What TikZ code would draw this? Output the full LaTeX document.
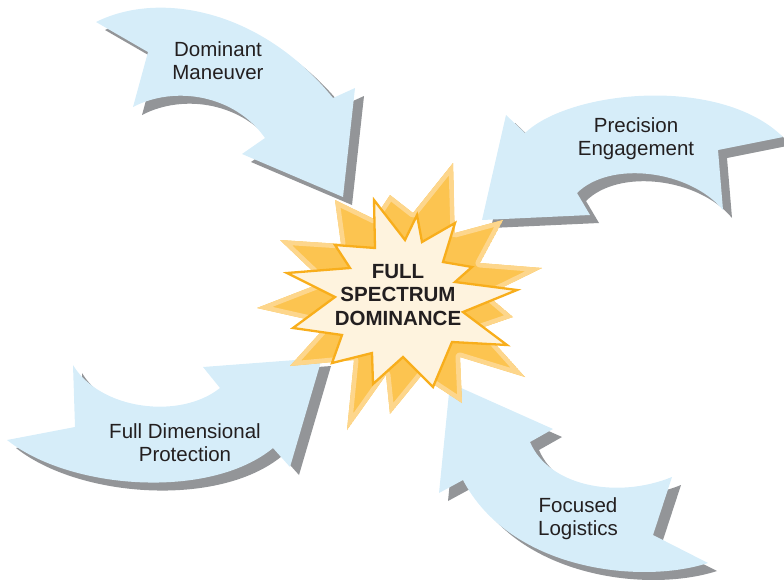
\documentclass[tikz,border=0pt]{standalone}
\usepackage{fontspec}
\setmainfont{Liberation Sans}
\definecolor{arrowblue}{RGB}{214,237,249}
\definecolor{shadowgray}{RGB}{147,149,152}
\definecolor{txt}{RGB}{35,31,32}
\definecolor{starlight}{RGB}{253,214,140}
\definecolor{starmid}{RGB}{252,196,80}
\definecolor{starfront}{RGB}{254,243,222}
\definecolor{starline}{RGB}{248,174,28}
\def\arrowA{(96,22) .. controls (160,-10) and (262,10) .. (333,98) -- (355,88) -- (343,197) -- (242,154) -- (265,138) .. controls (235,95) and (175,85) .. (133,107) -- (148,52) -- cycle}
\def\arrowB{(482,220) -- (506,115) -- (525,133) .. controls (570,90) and (720,75) .. (783,137) -- (718,150) -- (723,210) .. controls (690,170) and (610,160) .. (577,193) -- (590,215) -- cycle}
\def\arrowC{(73,365) -- (75,427) -- (7,440) .. controls (70,490) and (210,500) .. (273,448) -- (290,467) -- (322,358) -- (203,367) -- (220,388) .. controls (180,420) and (100,410) .. cycle}
\def\arrowD{(450,383) -- (553,429) -- (530,442) .. controls (548,485) and (615,500) .. (672,477) -- (653,535) -- (708,563) .. controls (640,585) and (510,570) .. (463,480) -- (439,493) -- cycle}
\def\backstar{(453,163) -- (455,233) -- (503,220) -- (480,263) -- (542,268) -- (487,295) -- (513,317) -- (481,328) -- (525,377) -- (460,357) -- (462,403) -- (421,376) -- (390,414) -- (386,375) -- (347,430) -- (354,360) -- (290,366) -- (328,324) -- (257,308) -- (324,282) -- (280,240) -- (341,244) -- (335,200) -- (374,219) -- (390,195) -- (413,213) -- cycle}
\def\frontstar{(374,200) -- (405,240) -- (417,215) -- (422,242) -- (455,223) -- (443,262) -- (472,267) -- (455,282) -- (517,290) -- (463,312) -- (507,345) -- (452,342) -- (433,387) -- (403,357) -- (373,384) -- (372,353) -- (332,363) -- (342,335) -- (293,328) -- (335,297) -- (287,273) -- (350,268) -- (335,245) -- (375,248) -- cycle}
\begin{document}
\begin{tikzpicture}[x=1pt,y=-1pt,
  arrowbody/.style={fill=arrowblue},
  arrowshadow/.style={fill=shadowgray, shift={(9,8)}},
  arrowtext/.style={anchor=north, align=center, inner sep=0pt, text=txt,
    font=\fontsize{20.5}{23.3}\selectfont},
  startext/.style={anchor=north, align=center, inner sep=0pt, text=txt,
    font=\bfseries\fontsize{20.5}{23.3}\selectfont}]
\useasboundingbox (0,0) rectangle (784,584);
% arrows with shadows
\fill[arrowshadow] \arrowA;
\fill[arrowbody] \arrowA;
\fill[arrowshadow] \arrowB;
\fill[arrowbody] \arrowB;
\fill[arrowshadow] \arrowC;
\fill[arrowbody] \arrowC;
\fill[arrowshadow] \arrowD;
\fill[arrowbody] \arrowD;
% star: back layer (darker core with light rim)
\begin{scope}
\clip \backstar;
\fill[starmid] \backstar;
\draw[starlight, line width=9pt, line join=round] \backstar;
\end{scope}
% star: front layer
\filldraw[fill=starfront, draw=starline, line width=2.3pt] \frontstar;
% labels
\node[arrowtext] (dm) at (218,41.3) {Dominant\\Maneuver};
\node[arrowtext] (pe) at (636,117) {Precision\\Engagement};
\node[arrowtext] (fdp) at (185,423.6) {Full Dimensional\\Protection};
\node[arrowtext] (fl) at (578,497.6) {Focused\\Logistics};
\node[startext] (fsd) at (398,264.3) {FULL\\SPECTRUM\\DOMINANCE};
\end{tikzpicture}
\end{document}
